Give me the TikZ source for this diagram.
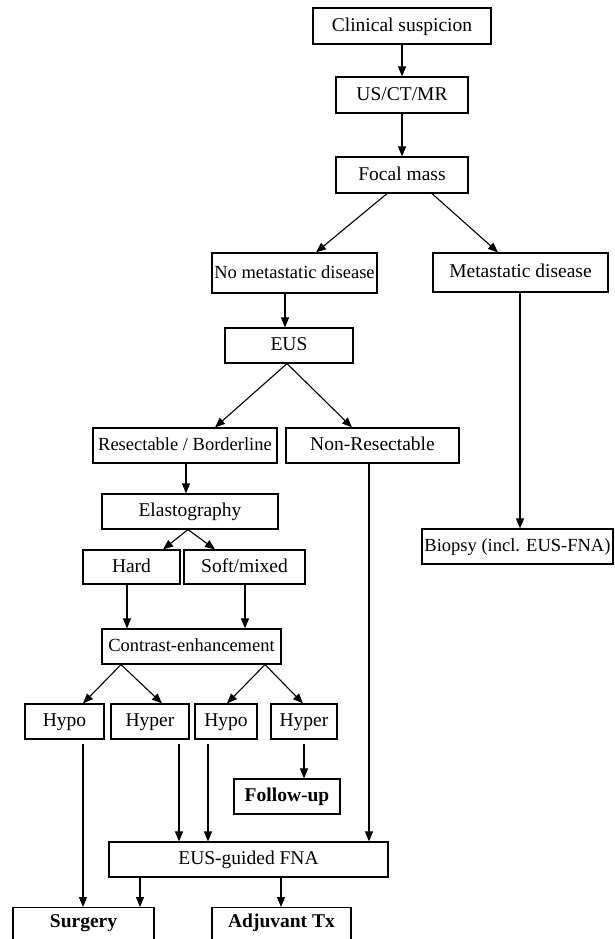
\documentclass[tikz,border=0pt]{standalone}
\usepackage{fontspec}
\setmainfont{Liberation Serif}
\usetikzlibrary{arrows.meta}
\tikzset{
  box/.style={draw, line width=1.2pt, inner sep=0pt, font=\fontsize{19.5}{22}\selectfont, text height=13.5pt, text depth=3pt},
  tight/.style={font=\fontsize{18.5}{22}\selectfont},
  boldbox/.style={box, font=\fontsize{19.5}{22}\selectfont\bfseries},
  conn/.style={line width=1.1pt},
  arr/.style={conn, -{Triangle[length=10pt,width=8pt]}},
}
\begin{document}
\begin{tikzpicture}[x=1pt,y=-1pt]
\useasboundingbox (0,0) rectangle (614,939);
\clip (0,0) rectangle (614,939);
% nodes
\node[box, minimum width=178pt, minimum height=36pt] (cs) at (402,26) {Clinical suspicion};
\node[box, minimum width=132pt, minimum height=36pt] (us) at (402,95) {US/CT/MR};
\node[box, minimum width=132pt, minimum height=36pt] (fm) at (402,175) {Focal mass};
\node[box, tight, minimum width=165pt, minimum height=40pt] (nm) at (294.5,273) {No metastatic disease};
\node[box, minimum width=175pt, minimum height=39pt] (md) at (520.5,272.5) {Metastatic disease};
\node[box, minimum width=128pt, minimum height=35pt] (eus) at (289,345.5) {EUS\hspace{11pt}};
\node[box, tight, minimum width=184pt, minimum height=35pt] (rb) at (185,445.5) {Resectable / Borderline};
\node[box, minimum width=173pt, minimum height=35pt] (nr) at (372.5,445.5) {Non-Resectable};
\node[box, tight, minimum width=191pt, minimum height=35pt] (bio) at (517.5,546.5) {Biopsy (incl. EUS-FNA)};
\node[box, minimum width=176pt, minimum height=35pt] (el) at (190,511.5) {Elastography};
\node[box, minimum width=97pt, minimum height=34pt] (hard) at (131.5,567) {Hard\hspace{10pt}};
\node[box, minimum width=121pt, minimum height=34pt] (soft) at (244.5,567) {Soft/mixed};
\node[box, tight, minimum width=179pt, minimum height=35pt] (ce) at (191.5,646.5) {Contrast-enhancement};
\node[box, minimum width=79pt, minimum height=35pt] (hypo1) at (64.5,721.5) {Hypo\hspace{10pt}};
\node[box, minimum width=78pt, minimum height=35pt] (hyper1) at (150,721.5) {Hyper\hspace{9pt}};
\node[box, minimum width=62pt, minimum height=35pt] (hypo2) at (226,721.5) {Hypo\hspace{9pt}};
\node[box, minimum width=66pt, minimum height=35pt] (hyper2) at (304,721.5) {Hyper\hspace{10pt}};
\node[boldbox, minimum width=106pt, minimum height=35pt] (fu) at (287,796.5) {Follow-up};
\node[box, minimum width=279pt, minimum height=35pt] (fna) at (248.5,859.5) {EUS-guided FNA};
\node[boldbox, anchor=north, minimum width=141pt, text height=20pt, text depth=40pt] (surg) at (83.5,907) {Surgery};
\node[boldbox, anchor=north, minimum width=139pt, text height=20pt, text depth=40pt] (adj) at (281.5,907) {Adjuvant Tx};
% connectors
\draw[arr] (cs.south) -- (us.north);
\draw[arr] (us.south) -- (fm.north);
\draw[arr] (fm.south -| 387,0) -- (nm.north -| 316,0);
\draw[arr] (fm.south -| 432,0) -- (md.north -| 498,0);
\draw[arr] (nm.south -| 285,0) -- (eus.north -| 285,0);
\draw[arr] (eus.south -| 287,0) -- (rb.north -| 215,0);
\draw[arr] (eus.south -| 287,0) -- (nr.north -| 352,0);
\draw[arr] (md.south -| 520,0) -- (bio.north -| 520,0);
\draw[arr] (rb.south -| 186,0) -- (el.north -| 186,0);
\draw[arr] (el.south -| 188,0) -- (hard.north -| 163,0);
\draw[arr] (el.south -| 188,0) -- (soft.north -| 215,0);
\draw[arr] (hard.south -| 127,0) -- (ce.north -| 127,0);
\draw[arr] (soft.south -| 245,0) -- (ce.north -| 245,0);
\draw[arr] (ce.south -| 121,0) -- (hypo1.north -| 83,0);
\draw[arr] (ce.south -| 121,0) -- (hyper1.north -| 162,0);
\draw[arr] (ce.south -| 265,0) -- (hypo2.north -| 227,0);
\draw[arr] (ce.south -| 265,0) -- (hyper2.north -| 303,0);
\draw[arr, shorten <=4pt] (hypo1.south -| 83,0) -- (surg.north -| 83,0);
\draw[arr, shorten <=4pt] (hyper1.south -| 179,0) -- (fna.north -| 179,0);
\draw[arr, shorten <=4pt] (hypo2.south -| 208,0) -- (fna.north -| 208,0);
\draw[arr, shorten <=4pt] (hyper2.south -| 304,0) -- (fu.north -| 304,0);
\draw[arr] (nr.south -| 369,0) -- (fna.north -| 369,0);
\draw[arr] (fna.south -| 140,0) -- (surg.north -| 140,0);
\draw[arr] (fna.south -| 281,0) -- (adj.north -| 281,0);
\end{tikzpicture}
\end{document}
